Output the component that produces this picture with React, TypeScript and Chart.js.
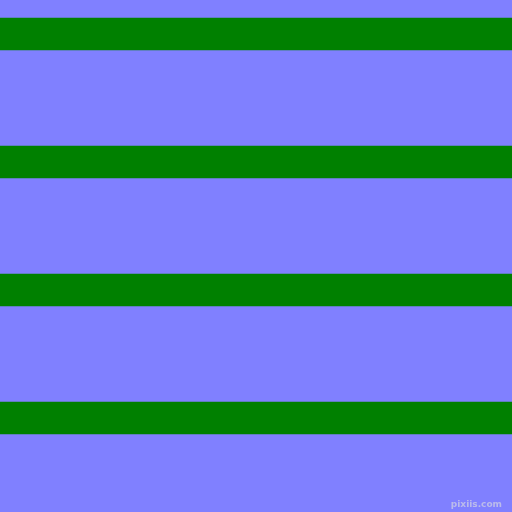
import { useEffect, useRef } from "react"
import { Chart, registerables } from "chart.js"

Chart.register(...registerables)

// each stripe is a floating bar: [top, bottom] in pixel-units of a 0..512 scale
const stripeStarts = [18, 146, 274, 402]
const stripeHeight = 32
const stripes = stripeStarts.map((s) => [s, s + stripeHeight])

const watermark = "pixiis.com"

export default function App() {
  const chartRef = useRef<HTMLCanvasElement | null>(null)
  const chartInstance = useRef<Chart | null>(null)

  useEffect(() => {
    document.body.style.margin = "0"
    if (!chartRef.current) return
    const ctx = chartRef.current.getContext("2d")
    if (!ctx) return
    if (chartInstance.current) chartInstance.current.destroy()

    chartInstance.current = new Chart(ctx, {
      type: "bar",
      data: {
        labels: [""],
        datasets: stripes.map((s) => ({
          data: [s as any],
          backgroundColor: "#008000",
          borderWidth: 0,
          barPercentage: 1,
          categoryPercentage: 1,
          grouped: false,
        })),
      },
      options: {
        animation: false,
        responsive: false,
        maintainAspectRatio: false,
        layout: { padding: 0 },
        plugins: {
          legend: { display: false },
          tooltip: { enabled: false },
        },
        scales: {
          x: { display: false, offset: true },
          y: { display: false, min: 0, max: 512, reverse: true },
        },
      },
      plugins: [
        {
          id: "watermark",
          afterDraw(chart) {
            const c = chart.ctx
            c.save()
            c.font = "bold 9px 'DejaVu Sans'"
            c.fillStyle = "rgba(200,200,230,0.8)"
            c.textAlign = "right"
            c.textBaseline = "alphabetic"
            c.fillText(watermark, 502, 507)
            c.restore()
          },
        },
      ],
    })

    return () => {
      if (chartInstance.current) {
        chartInstance.current.destroy()
        chartInstance.current = null
      }
    }
  }, [])

  return (
    <div style={{ position: "fixed", left: 0, top: 0, width: 512, height: 512, background: "#8080ff" }}>
      <canvas ref={chartRef} width={512} height={512} style={{ display: "block", width: 512, height: 512 }} />
    </div>
  )
}
